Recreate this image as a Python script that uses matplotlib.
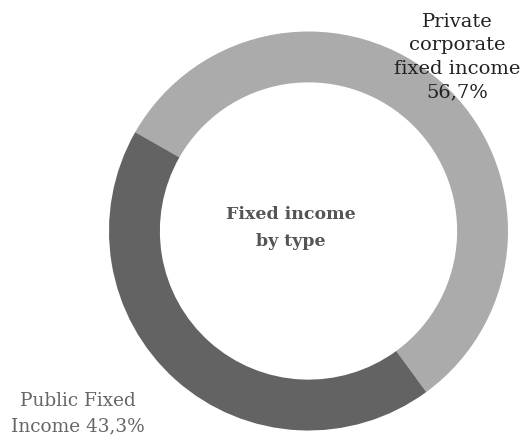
import matplotlib.pyplot as plt

W, H = 524, 443

labels = ['Private\ncorporate\nfixed income\n56,7%', 'Public Fixed\nIncome 43,3%']
values = [56.7, 43.3]
colors = ['#ababab', '#636363']
title = 'Fixed income\nby type'

fig = plt.figure(figsize=(W / 100, H / 100), dpi=100)
ax = fig.add_axes([0, 0, 1, 1])

cx, cy, r = 308.5, H - 231, 199.5
ax.pie(values, colors=colors, startangle=150.3, counterclock=False,
       center=(cx, cy), radius=r, wedgeprops=dict(width=r * 0.255, linewidth=0))

ax.set_xlim(0, W)
ax.set_ylim(0, H)
ax.set_aspect('equal')
ax.axis('off')

font = 'DejaVu Serif'
ax.text(457, H - 57, labels[0], ha='center', va='center', fontsize=14,
        family=font, color='#222222', linespacing=1.4)
ax.text(78, H - 414, labels[1], ha='center', va='center', fontsize=13.3,
        family=font, color='#666666', linespacing=1.5)
ax.text(291, H - 228, title, ha='center', va='center', fontsize=12.5,
        family=font, weight='bold', color='#555555', linespacing=1.7)

fig.savefig('out.png', dpi=100)
